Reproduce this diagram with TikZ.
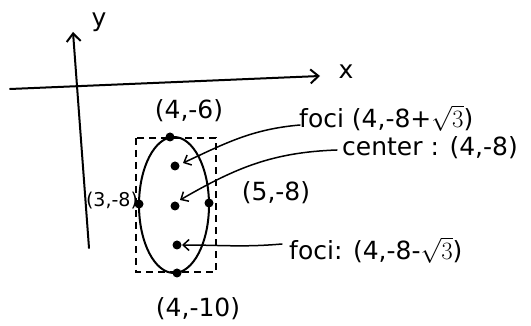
\documentclass[tikz,border=0pt]{standalone}
\usepackage{fontspec}
\setmainfont{DejaVu Sans}
\usetikzlibrary{arrows.meta}
\begin{document}
\begin{tikzpicture}[x=1pt,y=-1pt,
  pen/.style={line width=2pt, line cap=round, line join=round},
  axis/.style={pen, -{Straight Barb[length=8pt,width=14pt,line width=2pt]}},
  pointer/.style={line width=1.5pt, line cap=round, -{Straight Barb[length=6pt,width=11pt,line width=1.5pt]}},
  dot/.style={circle, fill=black, inner sep=0pt, minimum size=9pt},
  lbl/.style={font=\fontsize{25}{28}\selectfont, inner sep=1pt},
  box/.style={line width=1.4pt, dash pattern=on 7pt off 5pt}]
\useasboundingbox (0,0) rectangle (531,326);
% axes
\coordinate (yb) at (89,248);
\coordinate (yt) at (73,32);
\coordinate (xl) at (10,89);
\coordinate (xr) at (320,76);
\draw[axis] (yb) -- (yt);
\draw[axis] (xl) -- (xr);
\node[lbl] (ylab) at (99,22) {y};
\node[lbl] (xlab) at (346,72) {x};
% dashed bounding box
\draw[box] (136,138) rectangle (216,272);
% ellipse
\draw[pen] (174,205) ellipse [x radius=35pt, y radius=68pt];
% points
\node[dot] (top) at (170,137) {};
\node[dot] (left) at (139,204) {};
\node[dot] (right) at (209,203) {};
\node[dot] (bot) at (177,273) {};
\node[dot] (f1) at (175,166) {};
\node[dot] (c) at (175,206) {};
\node[dot] (f2) at (177,245) {};
% labels
\node[lbl] (ltop) at (189,111) {(4,-6)};
\node[lbl, font=\fontsize{19}{22}\selectfont] (lleft) at (112,201) {(3,-8)};
\node[lbl] (lright) at (276,193) {(5,-8)};
\node[lbl] (lbot) at (198,309) {(4,-10)};
\node[lbl, anchor=west] (lf1) at (298,118) {foci (4,-8+$\sqrt{3}$)};
\node[lbl, anchor=west] (lc) at (341,148) {center : (4,-8)};
\node[lbl, anchor=west] (lf2) at (288,250) {foci: (4,-8-$\sqrt{3}$)};
% pointers
\draw[pointer] (lf1.west) ++(2,7) to[out=185,in=25] ([shift={(8,-3)}]f1.center);
\draw[pointer] (lc.west) ++(-4,2) to[out=182,in=30] ([shift={(5,-6)}]c.center);
\draw[pointer] (lf2.west) ++(-6,-6) to[out=185,in=0] ([shift={(5,0)}]f2.center);
\end{tikzpicture}
\end{document}
